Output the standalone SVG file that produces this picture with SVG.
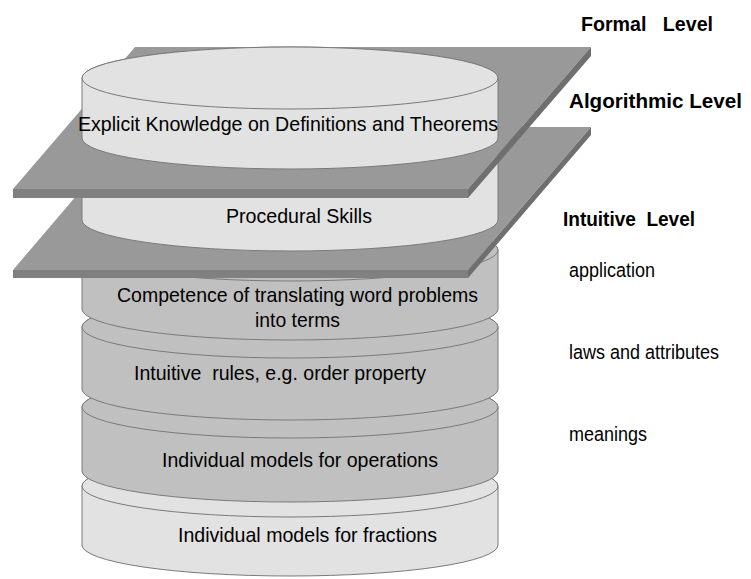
<svg xmlns="http://www.w3.org/2000/svg" width="751" height="579" viewBox="0 0 751 579">
<style>
.light{fill:#e2e2e2;stroke:#7a7a7a;stroke-width:1}
.mid{fill:#c0c0c0;stroke:#7a7a7a;stroke-width:1}
.ptop{fill:#999999}
.pfront{fill:#808080}
.pside{fill:#6f6f6f}
text{font-family:"Liberation Sans",Arial,sans-serif;fill:#000;white-space:pre}
.t{font-size:21px}
.r{font-size:20.5px}
.b{font-size:21px;font-weight:bold}
</style>
<rect width="751" height="579" fill="#ffffff"/>
<g id="can-fractions">
<path class="light" d="M82,486 L82,545 A208,31 0 0 0 498,545 L498,486 A208,31 0 0 0 82,486 Z"/>
<ellipse class="light" cx="290" cy="486" rx="208" ry="31"/>
<text class="t" x="178" y="542" textLength="259" lengthAdjust="spacingAndGlyphs">Individual models for fractions</text>
</g>
<g id="can-operations">
<path class="mid" d="M82,407 L82,471 A208,31 0 0 0 498,471 L498,407 A208,31 0 0 0 82,407 Z"/>
<ellipse class="mid" cx="290" cy="407" rx="208" ry="31"/>
<text class="t" x="162" y="467" textLength="276" lengthAdjust="spacingAndGlyphs">Individual models for operations</text>
</g>
<g id="can-intuitive-rules">
<path class="mid" d="M82,327 L82,389 A208,31 0 0 0 498,389 L498,327 A208,31 0 0 0 82,327 Z"/>
<ellipse class="mid" cx="290" cy="327" rx="208" ry="31"/>
<text class="t" x="134" y="380" textLength="292" lengthAdjust="spacingAndGlyphs">Intuitive  rules, e.g. order property</text>
</g>
<g id="can-competence">
<path class="mid" d="M82,250 L82,309 A208,31 0 0 0 498,309 L498,250 A208,31 0 0 0 82,250 Z"/>
<ellipse class="mid" cx="290" cy="250" rx="208" ry="31"/>
<text class="t" x="117" y="302" textLength="361" lengthAdjust="spacingAndGlyphs">Competence of translating word problems</text>
<text class="t" x="255" y="327" textLength="85" lengthAdjust="spacingAndGlyphs">into terms</text>
</g>
<g id="plane-intuitive">
<polygon class="ptop" points="135,127 591,127 468,270 13,270"/>
<rect class="pfront" x="13" y="270" width="455" height="8"/>
<polygon class="pside" points="591,127 591,135 468,278 468,270"/>
</g>
<g id="can-procedural">
<path class="light" d="M82,150 L82,220 A208,31 0 0 0 498,220 L498,150 A208,31 0 0 0 82,150 Z"/>
<ellipse class="light" cx="290" cy="150" rx="208" ry="31"/>
<text class="t" x="226" y="223" textLength="146" lengthAdjust="spacingAndGlyphs">Procedural Skills</text>
</g>
<g id="plane-algorithmic">
<polygon class="ptop" points="135,47 591,47 468,189 13,189"/>
<rect class="pfront" x="13" y="189" width="455" height="9"/>
<polygon class="pside" points="591,47 591,56 468,198 468,189"/>
</g>
<g id="can-explicit">
<path class="light" d="M82,78 L82,138 A208,31 0 0 0 498,138 L498,78 A208,31 0 0 0 82,78 Z"/>
<ellipse class="light" cx="290" cy="78" rx="208" ry="31"/>
<text class="t" x="78" y="131" textLength="420" lengthAdjust="spacingAndGlyphs">Explicit Knowledge on Definitions and Theorems</text>
</g>
<g id="labels">
<text class="b" x="581" y="31" textLength="132" lengthAdjust="spacingAndGlyphs">Formal   Level</text>
<text class="b" x="569" y="108" textLength="173" lengthAdjust="spacingAndGlyphs">Algorithmic Level</text>
<text class="b" x="563" y="226" textLength="132" lengthAdjust="spacingAndGlyphs">Intuitive  Level</text>
<text class="r" x="569" y="277" textLength="86" lengthAdjust="spacingAndGlyphs">application</text>
<text class="r" x="569" y="359" textLength="150" lengthAdjust="spacingAndGlyphs">laws and attributes</text>
<text class="r" x="569" y="441" textLength="78" lengthAdjust="spacingAndGlyphs">meanings</text>
</g>
</svg>
